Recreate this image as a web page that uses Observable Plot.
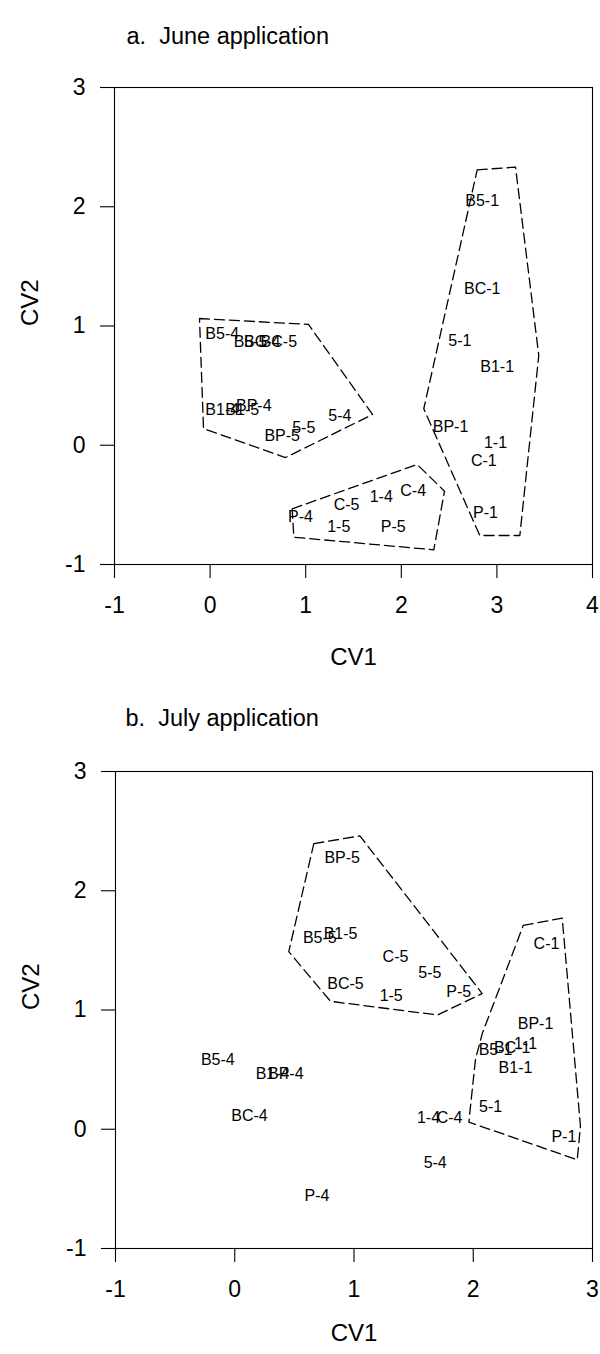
<!DOCTYPE html>
<html><head><meta charset="utf-8">
<script src="https://cdn.jsdelivr.net/npm/d3@7"></script>
<script src="https://cdn.jsdelivr.net/npm/@observablehq/plot@0.6"></script>
<style>
body{margin:0;background:#fff;}
#chart{width:600px;}
#chart svg{display:block;}
</style></head><body><div id="chart"></div>
<script>
// ---- June application ----
const juneTitle = "a.\u00a0 June application";
const juneLabels = ["B5-4","B5-5","BC-4","BC-5","B1-4","B1-5","BP-4","5-5","5-4","BP-5","P-4","C-5","1-4","C-4","1-5","P-5","B5-1","BC-1","5-1","B1-1","BP-1","1-1","C-1","P-1"];
const juneCV1 = [0.127,0.423,0.545,0.719,0.127,0.336,0.457,0.980,1.357,0.754,0.946,1.427,1.790,2.124,1.346,1.915,2.846,2.846,2.612,3.003,2.515,2.985,2.863,2.881];
const juneCV2 = [0.935,0.864,0.864,0.864,0.297,0.297,0.331,0.146,0.244,0.082,-0.603,-0.497,-0.436,-0.379,-0.681,-0.681,2.052,1.312,0.873,0.660,0.157,0.017,-0.134,-0.570];
const juneHullGroup = ["A","A","A","A","A","B","B","B","B","B","C","C","C","C","C","C"];
const juneHullCV1 = [-0.111,1.029,1.699,0.789,-0.069, 0.859,2.166,2.452,2.340,0.876, 2.794,3.195,3.438,3.240,2.821,2.235];
const juneHullCV2 = [1.063,1.013,0.258,-0.103,0.140, -0.533,-0.161,-0.385,-0.877,-0.771, 2.310,2.332,0.753,-0.757,-0.757,0.306];
const juneXTicks = [-1,0,1,2,3,4];

// ---- July application ----
const julyTitle = "b.\u00a0 July application";
const julyLabels = ["B5-4","B1-4","BP-4","BC-4","5-4","P-4","1-4","C-4","BP-5","B5-5","B1-5","C-5","5-5","BC-5","1-5","P-5","C-1","BP-1","B5-1","BC-1","1-1","B1-1","5-1","P-1"];
const julyCV1 = [-0.142,0.317,0.428,0.124,1.681,0.690,1.625,1.801,0.901,0.713,0.887,1.348,1.636,0.929,1.312,1.879,2.614,2.522,2.187,2.327,2.438,2.354,2.145,2.760];
const julyCV2 = [0.584,0.463,0.463,0.111,-0.279,-0.561,0.097,0.097,2.272,1.608,1.636,1.447,1.315,1.222,1.118,1.152,1.551,0.884,0.668,0.679,0.716,0.511,0.190,-0.062];
const julyHullGroup = ["A","A","A","A","A","A","B","B","B","B","B","B","B"];
const julyHullCV1 = [0.663,1.049,2.075,1.700,0.803,0.453, 2.419,2.746,2.899,2.872,1.963,2.019,2.075];
const julyHullCV2 = [2.395,2.460,1.138,0.958,1.073,1.489, 1.709,1.770,0.026,-0.256,0.060,0.589,0.800];
const julyXTicks = [-1,0,1,2,3];

const yTicks = [-1,0,1,2,3];
const xLabel = "CV1", yLabel = "CV2";

function points(labels, cv1, cv2) {
  return labels.map((t, i) => ({label: t, cv1: cv1[i], cv2: cv2[i]}));
}
function hulls(groups, cv1, cv2) {
  const rows = groups.map((g, i) => ({g, cv1: cv1[i], cv2: cv2[i]}));
  const out = [];
  for (const g of [...new Set(groups)]) {
    const r = rows.filter(d => d.g === g);
    out.push(...r, r[0]);
  }
  return out;
}
const fmt = d => String(d);

function panel(o) {
  return Plot.plot({
    width: 600, height: 677,
    marginTop: o.mt, marginBottom: o.mb, marginLeft: o.ml, marginRight: 8,
    style: {fontFamily: "'Liberation Sans', Arial, sans-serif", background: "white", color: "black", overflow: "visible"},
    x: {domain: o.xDomain},
    y: {domain: [-1, 3]},
    marks: [
      Plot.frame({stroke: "black", strokeWidth: 1.1}),
      Plot.axisX({ticks: o.xTicks, tickFormat: fmt, tickSize: 14, tickPadding: 18, fontSize: 23, label: null, strokeWidth: 1.1}),
      Plot.axisY({ticks: yTicks, tickFormat: fmt, tickSize: 14, tickPadding: 15, fontSize: 23, label: null, strokeWidth: 1.1}),
      Plot.line(o.hull, {x: "cv1", y: "cv2", z: "g", stroke: "black", strokeWidth: 1.3, strokeDasharray: "10,5"}),
      Plot.text(o.pts, {x: "cv1", y: "cv2", text: "label", fontSize: 16, fill: "black"}),
      Plot.text([o.title], {frameAnchor: "top-left", textAnchor: "start", dx: o.tdx, dy: o.tdy, fontSize: 23.5, fill: "black"}),
      Plot.text([xLabel], {frameAnchor: "bottom", dy: o.xldy, fontSize: 24, fill: "black"}),
      Plot.text([yLabel], {frameAnchor: "left", dx: -84, rotate: -90, fontSize: 24, fill: "black"})
    ]
  });
}

const chart = document.getElementById("chart");
chart.append(panel({
  xDomain: [-1, 4], xTicks: juneXTicks, mt: 87, mb: 113, ml: 114,
  hull: hulls(juneHullGroup, juneHullCV1, juneHullCV2),
  pts: points(juneLabels, juneCV1, juneCV2),
  title: juneTitle, tdx: 12, tdy: -60, xldy: 100
}));
chart.append(panel({
  xDomain: [-1, 3], xTicks: julyXTicks, mt: 94, mb: 106, ml: 115,
  hull: hulls(julyHullGroup, julyHullCV1, julyHullCV2),
  pts: points(julyLabels, julyCV1, julyCV2),
  title: julyTitle, tdx: 10, tdy: -62, xldy: 92
}));
</script></body></html>
